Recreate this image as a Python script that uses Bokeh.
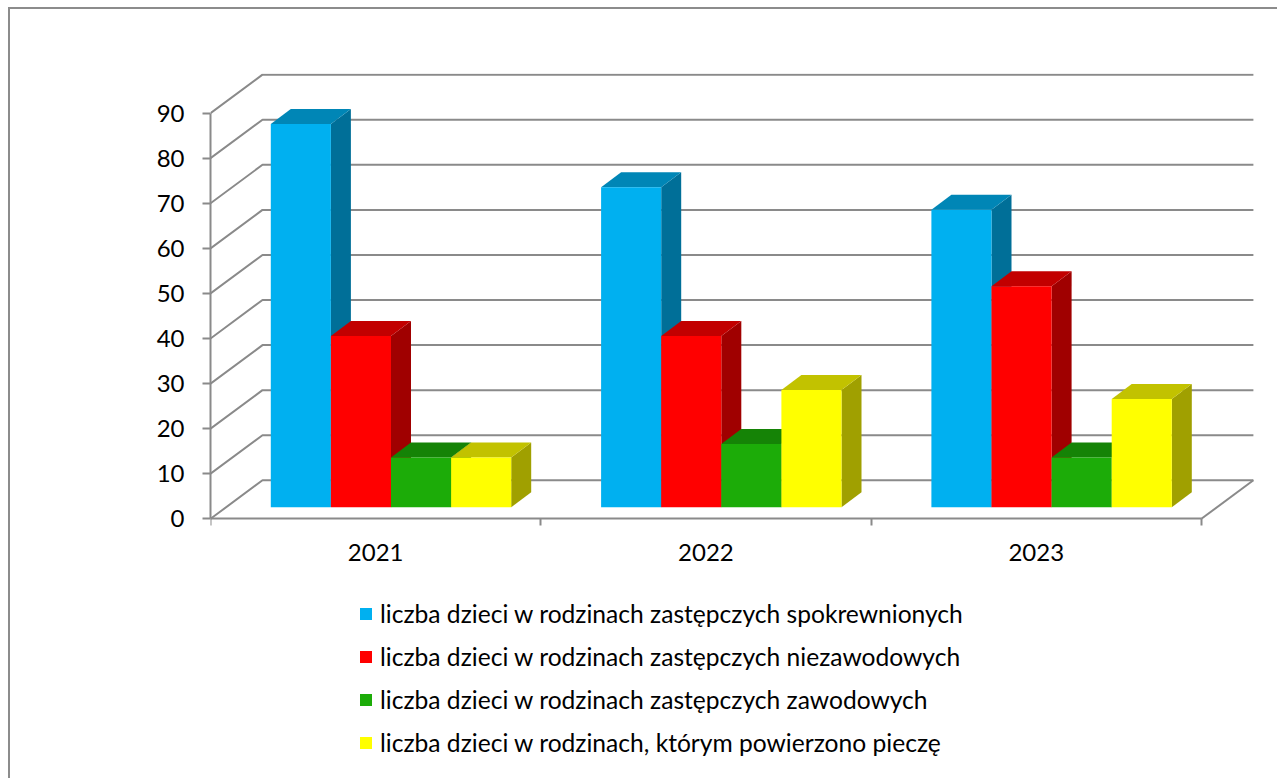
from bokeh.plotting import figure
from bokeh.models import (FixedTicker, Legend, LegendItem, Range1d)
from bokeh.embed import file_html
from bokeh.resources import INLINE

years = ["2021", "2022", "2023"]
series_names = [
    "liczba dzieci w rodzinach zastępczych spokrewnionych",
    "liczba dzieci w rodzinach zastępczych niezawodowych",
    "liczba dzieci w rodzinach zastępczych zawodowych",
    "liczba dzieci w rodzinach, którym powierzono pieczę",
]
spokrewnione = [85, 71, 66]
niezawodowe = [38, 38, 49]
zawodowe = [11, 14, 11]
piecza = [11, 26, 24]
series_values = [spokrewnione, niezawodowe, zawodowe, piecza]
front_colors = ["#00B0F0", "#FF0000", "#1CAC08", "#FFFF00"]
top_colors = ["#0086B6", "#C20000", "#158306", "#C2C200"]
side_colors = ["#006F98", "#A00000", "#126C05", "#A0A000"]
y_ticks = list(range(0, 100, 10))

GRID = "#8A8A8A"
FONT = "Lato"
PX_X = 330.3   # pixels per category
PX_Y = 4.507   # pixels per value unit
FRAME_L, FRAME_R = 200, 1244   # frame, relative to the figure
FRAME_T, FRAME_B = 64, 762
ZERO_Y = 509.3                 # where value 0 lies, relative to the figure
WIDTH, HEIGHT = 1269, 771

wall_dx = 52 / PX_X
wall_dy = 38.5 / PX_Y
bar_start = 60.3 / PX_X
bar_w = 60.1 / PX_X
bar_base = 11.6 / PX_Y
bar_dx = 20 / PX_X
bar_dy = 15 / PX_Y

p = figure(width=WIDTH, height=HEIGHT, output_backend="svg", toolbar_location=None,
           x_range=Range1d(0, (FRAME_R - FRAME_L) / PX_X),
           y_range=Range1d(-(FRAME_B - ZERO_Y) / PX_Y, (ZERO_Y - FRAME_T) / PX_Y),
           min_border_left=FRAME_L, min_border_right=WIDTH - FRAME_R,
           min_border_top=FRAME_T, min_border_bottom=HEIGHT - FRAME_B)
p.outline_line_color = None
p.grid.visible = False
p.margin = (7, 0, 0, 8)
p.styles = {"border-left": "2px solid #8C8C8C", "border-top": "2px solid #8C8C8C"}

# Axes
ax = p.xaxis[0]
ax.fixed_location = 0
ax.ticker = FixedTicker(ticks=[0.5, 1.5, 2.5], minor_ticks=[0, 1, 2, 3])
ax.major_label_overrides = {0.5: years[0], 1.5: years[1], 2.5: years[2]}
ax.bounds = (0, 3)
ay = p.yaxis[0]
ay.ticker = FixedTicker(ticks=y_ticks)
ay.bounds = (0, 90)
for a in (ax, ay):
    a.axis_line_color = GRID
    a.axis_line_width = 2
    a.major_tick_in = 0
    a.minor_tick_in = 0
    a.major_label_text_font = FONT
    a.major_label_text_color = "#000000"
    a.major_label_text_font_size = "24px"
ax.major_tick_out = 0
ax.minor_tick_out = 7
ax.minor_tick_line_color = GRID
ax.minor_tick_line_width = 2
ax.major_label_standoff = 18
ay.major_tick_out = 8
ay.major_tick_line_color = GRID
ay.major_tick_line_width = 2
ay.minor_tick_out = 0
ay.major_label_standoff = 18

# Walls: slanted side gridline and horizontal back gridline
gx = [[0, wall_dx, 3 + wall_dx] for _ in y_ticks] + [[3, 3 + wall_dx]]
gy = [[v, v + wall_dy, v + wall_dy] for v in y_ticks] + [[0, wall_dy]]
p.multi_line(gx, gy, line_color=GRID, line_width=2)

# Bars
items = []
for j, vals in enumerate(series_values):
    lefts = [i + bar_start + j * bar_w for i in range(len(vals))]
    rights = [l + bar_w for l in lefts]
    tops = [v + bar_base for v in vals]
    sx = [[r, r + bar_dx, r + bar_dx, r] for r in rights]
    sy = [[bar_base, bar_base + bar_dy, t + bar_dy, t] for t in tops]
    p.patches(sx, sy, fill_color=side_colors[j], line_color=None)
    tx = [[l, l + bar_dx, r + bar_dx, r] for l, r in zip(lefts, rights)]
    ty = [[t, t + bar_dy, t + bar_dy, t] for t in tops]
    p.patches(tx, ty, fill_color=top_colors[j], line_color=None)
    front = p.quad(left=lefts, right=rights, bottom=[bar_base] * len(vals), top=tops,
                   fill_color=front_colors[j], line_color=None)
    items.append(LegendItem(label=series_names[j], renderers=[front]))

legend = Legend(items=items, location=(148, 14), orientation="vertical",
                background_fill_alpha=0, border_line_color=None,
                glyph_width=15, glyph_height=15, label_standoff=7,
                spacing=14, margin=0, padding=0,
                label_text_font=FONT, label_text_font_size="24.6px", label_text_color="#000000")
p.add_layout(legend, "center")

open("out.html", "w").write(file_html(p, INLINE))
